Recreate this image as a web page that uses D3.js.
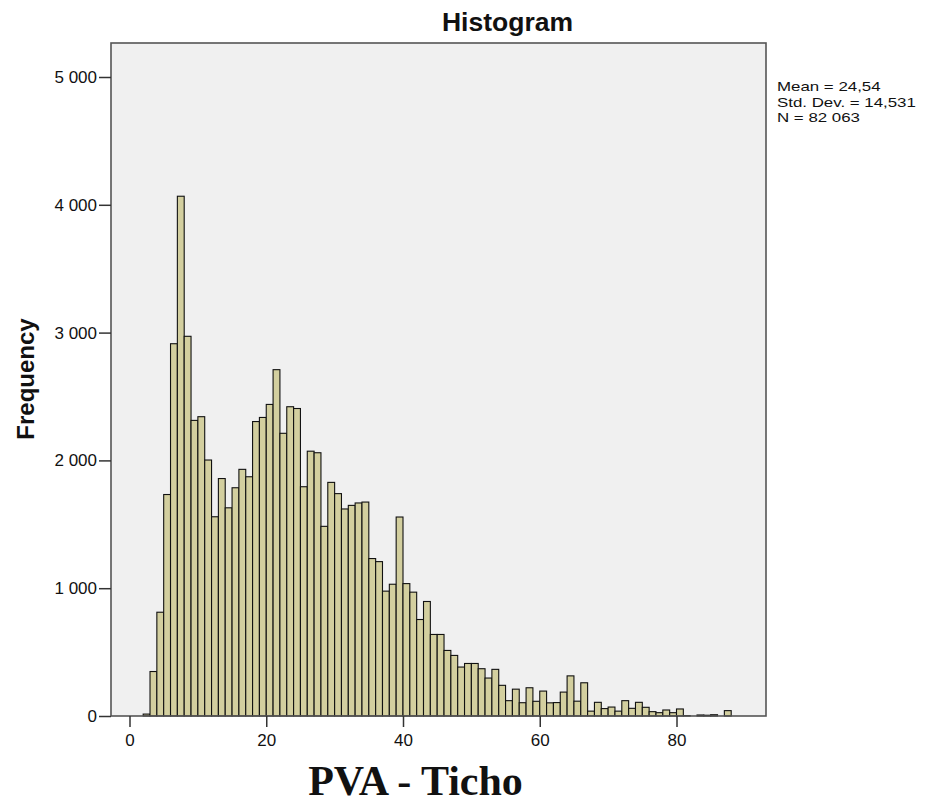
<!DOCTYPE html>
<html>
<head>
<meta charset="utf-8">
<script src="https://cdn.jsdelivr.net/npm/d3@7"></script>
<style>
    body { margin: 0; background: #fff; }
    text { font-family: "Liberation Sans", Arial, sans-serif; fill: #111; }
</style>
</head>
<body>
<script>
// histogram PVA - Ticho
var binLo = [2, 3, 4, 5, 6, 7, 8, 9, 10, 11, 12, 13, 14, 15, 16, 17, 18, 19, 20, 21,
    22, 23, 24, 25, 26, 27, 28, 29, 30, 31, 32, 33, 34, 35, 36, 37, 38, 39, 40, 41,
    42, 43, 44, 45, 46, 47, 48, 49, 50, 51, 52, 53, 54, 55, 56, 57, 58, 59, 60, 61,
    62, 63, 64, 65, 66, 67, 68, 69, 70, 71, 72, 73, 74, 75, 76, 77, 78, 79, 80, 81,
    82, 83, 84, 85, 86, 87];  // bin lower edges
var counts = [15, 348, 812, 1733, 2913, 4067, 2971, 2313, 2342, 2003, 1559, 1858, 1629, 1786, 1930, 1872, 2304, 2336, 2438, 2710,
    2212, 2420, 2406, 1794, 2072, 2060, 1484, 1828, 1740, 1620, 1648, 1667, 1674, 1232, 1208, 977, 1031, 1557, 1036, 969,
    755, 896, 638, 638, 513, 474, 383, 411, 411, 370, 297, 365, 240, 120, 210, 104, 221, 115, 195, 103,
    105, 187, 314, 116, 260, 38, 107, 58, 70, 38, 120, 60, 107, 68, 34, 26, 47, 26, 55, 3,
    0, 8, 6, 10, 0, 42];  // frequency per bin
var binWidth = 1;
var xTicks = [0, 20, 40, 60, 80];
var yTicks = [0, 1000, 2000, 3000, 4000, 5000];
var statLines = ["Mean = 24,54", "Std. Dev. = 14,531", "N = 82 063"];

var data = binLo.map(function (d, i) {
    return { lo: d, hi: d + binWidth, n: counts[i] };
});

var svg = d3
    .select("body")
    .append("svg")
    .attr("width", 929)
    .attr("height", 803);

var pLeft = 111, pRight = 766, pTop = 43, pBottom = 716;  // plot frame

var x = d3.scaleLinear().domain([0, 80]).range([129.5, 676.5]);
var y = d3.scaleLinear().domain([0, 5000]).range([pBottom, 77]);

svg.append("rect")  // plot background
    .attr("x", pLeft)
    .attr("y", pTop)
    .attr("width", pRight - pLeft)
    .attr("height", pBottom - pTop)
    .attr("fill", "#f0f0f0");

svg.append("g")
    .selectAll("rect")
    .data(data)
    .enter()
    .append("rect")
    .attr("x", function (d) { return x(d.lo); })
    .attr("y", function (d) { return y(d.n); })
    .attr("width", function (d) { return x(d.hi) - x(d.lo); })
    .attr("height", function (d) { return pBottom - y(d.n); })
    .attr("fill", "#d3cf9f")
    .attr("stroke", "#111")
    .attr("stroke-width", 1.1);

svg.append("rect")  // frame
    .attr("x", pLeft)
    .attr("y", pTop)
    .attr("width", pRight - pLeft)
    .attr("height", pBottom - pTop)
    .attr("fill", "none")
    .attr("stroke", "#555")
    .attr("stroke-width", 1.6);

// x axis
var xAxis = d3.axisBottom(x).tickValues(xTicks).tickSize(11).tickFormat(d3.format("d"));
var gx = svg.append("g")
    .attr("transform", "translate(0," + pBottom + ")")
    .call(xAxis);
gx.select(".domain").remove();
gx.selectAll("line").attr("stroke", "#333").attr("stroke-width", 1.5);
gx.selectAll("text")
    .attr("y", 18)
    .attr("font-size", 17)
    .attr("fill", "#222")
    .style("font-family", "Liberation Sans, Arial, sans-serif");

// y axis
var fmt = function (d) { return d3.format(",")(d).replace(/,/g, " "); };
var yAxis = d3.axisLeft(y).tickValues(yTicks).tickSize(12).tickFormat(fmt);
var gy = svg.append("g")
    .attr("transform", "translate(" + pLeft + ",0)")
    .call(yAxis);
gy.select(".domain").remove();
gy.selectAll("line").attr("stroke", "#333").attr("stroke-width", 1.5);
gy.selectAll("text")
    .attr("x", -14)
    .attr("font-size", 17)
    .attr("fill", "#222")
    .style("font-family", "Liberation Sans, Arial, sans-serif");

// title
svg.append("text")
    .attr("x", 507.5)
    .attr("y", 31)
    .attr("text-anchor", "middle")
    .attr("font-size", 26.5)
    .attr("font-weight", "bold")
    .text("Histogram");

// y label
svg.append("text")
    .attr("transform", "translate(34,379) rotate(-90)")
    .attr("text-anchor", "middle")
    .attr("font-size", 24)
    .attr("font-weight", "bold")
    .text("Frequency");

// x label
svg.append("text")
    .attr("x", 415.5)
    .attr("y", 795)
    .attr("text-anchor", "middle")
    .attr("font-size", 42)
    .attr("font-weight", "bold")
    .style("font-family", "Liberation Serif, Times New Roman, serif")
    .text("PVA - Ticho");

// stats box (text a bit wider than tall, like the original)
svg.append("g")
    .selectAll("text")
    .data(statLines)
    .enter()
    .append("text")
    .attr("transform", function (d, i) {
        return "translate(777," + (91 + i * 15.5) + ") scale(1.25,1)";
    })
    .attr("font-size", 13.5)
    .attr("fill", "#222")
    .text(function (d) { return d; });
</script>
</body>
</html>
